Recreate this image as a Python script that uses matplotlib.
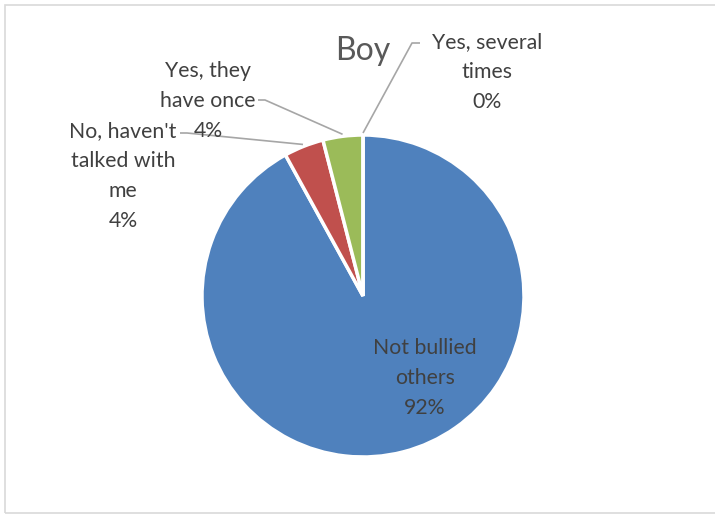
import numpy as np
import matplotlib.pyplot as plt
from matplotlib.patches import Rectangle

plt.rcParams['font.family'] = ['Lato', 'DejaVu Sans']

categories = ["Not bullied\nothers", "No, haven't\ntalked with\nme", "Yes, they\nhave once", "Yes, several\ntimes"]
values = [92, 4, 4, 0]
colors = ["#4F81BD", "#C0504D", "#9BBB59", "#8064A2"]
title = "Boy"

W, H = 715, 515
fig = plt.figure(figsize=(W / 100, H / 100), dpi=100)
ax = fig.add_axes([0, 0, 1, 1])

# chart frame
ax.add_patch(Rectangle((5, 2), 720, 508, fill=False, edgecolor="#D9D9D9", lw=1.2))

cx, cy, r = 363, H - 296, 161
wedges, _ = ax.pie(values, colors=colors, startangle=90, counterclock=False,
                   center=(cx, cy), radius=r, frame=True,
                   wedgeprops=dict(edgecolor="white", linewidth=2.5))
ax.set_xlim(0, W)
ax.set_ylim(0, H)
ax.set_aspect('equal')
ax.axis('off')

txt = "#404040"
line_c = "#A6A6A6"
fs = 15.3
ls = 1.62

# inside label for the big slice
ax.text(425, H - 378, categories[0] + "\n" + f"{values[0]}%", ha='center', va='center',
        fontsize=fs, color=txt, linespacing=ls)

# outside labels with leader lines: (text center x, text center y, elbow x, elbow y, end x)
callouts = {
    1: (123, 176, 187, 133, 180),
    2: (208, 101, 265, 100, 258),
    3: (487, 72, 412, 43, 420),
}
total = sum(values)
start = 90.0
for i, v in enumerate(values):
    ang = start - v / total * 360 / 2
    start -= v / total * 360
    if i not in callouts:
        continue
    tx, ty, ex, ey, hx = callouts[i]
    a = np.deg2rad(ang)
    px, py = cx + (r + 2) * np.cos(a), cy + (r + 2) * np.sin(a)
    ax.plot([px, ex, hx], [py, H - ey, H - ey], color=line_c, lw=1.2, solid_capstyle='butt')
    ax.text(tx, H - ty, categories[i] + "\n" + f"{v}%", ha='center', va='center',
            fontsize=fs, color=txt, linespacing=ls)

ax.text(363, H - 51, title, ha='center', va='center', fontsize=23, color="#595959")

fig.savefig("out.png", dpi=100)
